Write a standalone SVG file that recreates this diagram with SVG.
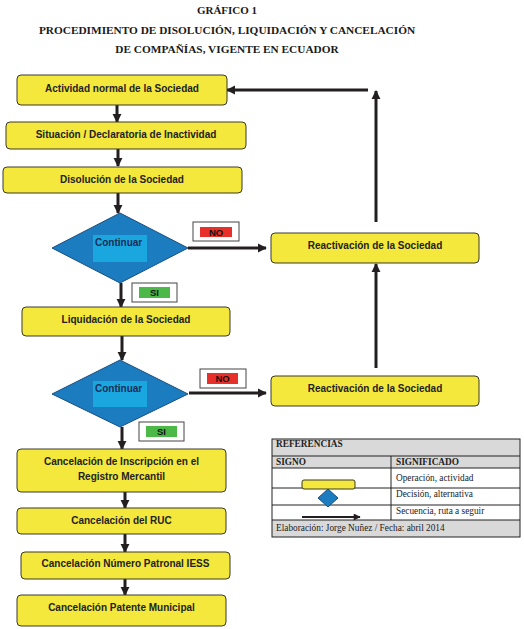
<svg xmlns="http://www.w3.org/2000/svg" width="524" height="629" viewBox="0 0 524 629">
<defs>
<style>
.title{font-family:"Liberation Serif","Times New Roman",serif;font-weight:bold;fill:#1a1a1a;text-anchor:middle}
.box{fill:#f4e83c;stroke:#3a3a2a;stroke-width:1}
.bt{font-family:"Liberation Sans",Arial,sans-serif;font-weight:bold;font-size:10px;fill:#222;text-anchor:middle}
.dia{fill:#1b7cc0;stroke:#1a4f80;stroke-width:1}
.inner{fill:#1aa7e0}
.ct{font-family:"Liberation Sans",Arial,sans-serif;font-weight:bold;font-size:10px;fill:#1c2b58}
.lbl{fill:#fff;stroke:#444;stroke-width:1}
.lt{font-family:"Liberation Sans",Arial,sans-serif;font-weight:bold;font-size:9.5px;fill:#111;text-anchor:middle}
.con{stroke:#231f20;stroke-width:3;fill:none}
.lg{font-family:"Liberation Serif","Times New Roman",serif;font-size:9.3px;fill:#222}
.lgb{font-family:"Liberation Serif","Times New Roman",serif;font-size:9.3px;font-weight:bold;fill:#222}
.tl{stroke:#222;stroke-width:1;fill:none}
</style>
<marker id="ah" viewBox="0 0 10 10" refX="9" refY="5" markerWidth="9" markerHeight="10" markerUnits="userSpaceOnUse" orient="auto">
<path d="M0,0 L10,5 L0,10 z" fill="#231f20"/>
</marker>
<marker id="ahs" viewBox="0 0 10 10" refX="9" refY="5" markerWidth="8" markerHeight="7" markerUnits="userSpaceOnUse" orient="auto">
<path d="M0,0 L10,5 L0,10 z" fill="#231f20"/>
</marker>
</defs>
<rect width="524" height="629" fill="#fff"/>

<g id="title">
<text class="title" x="227" y="14" font-size="11">GRÁFICO 1</text>
<text class="title" x="227" y="34" font-size="11.3">PROCEDIMIENTO DE DISOLUCIÓN, LIQUIDACIÓN Y CANCELACIÓN</text>
<text class="title" x="227" y="53" font-size="11.3">DE COMPAÑÍAS, VIGENTE EN ECUADOR</text>
</g>

<g id="connectors">
<line class="con" x1="117" y1="105" x2="117" y2="122" marker-end="url(#ah)"/>
<line class="con" x1="118" y1="149" x2="118" y2="166" marker-end="url(#ah)"/>
<line class="con" x1="118" y1="193" x2="118" y2="213" marker-end="url(#ah)"/>
<line class="con" x1="121" y1="283" x2="121" y2="307" marker-end="url(#ah)"/>
<line class="con" x1="122" y1="336" x2="122" y2="360" marker-end="url(#ah)"/>
<line class="con" x1="122" y1="427" x2="122" y2="449" marker-end="url(#ah)"/>
<line class="con" x1="125" y1="492" x2="125" y2="508" marker-end="url(#ah)"/>
<line class="con" x1="125" y1="534" x2="125" y2="552" marker-end="url(#ah)"/>
<line class="con" x1="125" y1="579" x2="125" y2="595" marker-end="url(#ah)"/>
<line class="con" x1="188" y1="248" x2="266" y2="248" marker-end="url(#ah)"/>
<line class="con" x1="189" y1="393" x2="266" y2="393" marker-end="url(#ah)"/>
<line class="con" x1="376" y1="368" x2="376" y2="264" marker-end="url(#ah)"/>
<line class="con" x1="376" y1="222" x2="376" y2="91" marker-end="url(#ah)"/>
<line class="con" x1="368" y1="90" x2="227" y2="90" marker-end="url(#ah)"/>
</g>

<g id="n1"><rect class="box" x="17" y="75" width="210" height="30" rx="4"/><text class="bt" x="122" y="91.5">Actividad normal de la Sociedad</text></g>
<g id="n2"><rect class="box" x="6" y="122" width="240" height="27" rx="4"/><text class="bt" x="126" y="138">Situación / Declaratoria de Inactividad</text></g>
<g id="n3"><rect class="box" x="3" y="167" width="239" height="26" rx="4"/><text class="bt" x="122" y="183">Disolución de la Sociedad</text></g>

<g id="d1">
<polygon class="dia" points="120,213 188,248 120,283 52,248"/>
<rect class="inner" x="93" y="235" width="54" height="27"/>
<text class="ct" x="95" y="246">Continuar</text>
</g>
<g id="no1"><rect class="lbl" x="193" y="222" width="46" height="19"/><rect x="200" y="227" width="32" height="10" fill="#e8302a"/><text class="lt" x="216" y="235.5">NO</text></g>
<g id="si1"><rect class="lbl" x="132" y="283" width="45" height="19"/><rect x="139" y="287" width="31" height="11" fill="#4cb848"/><text class="lt" x="154.5" y="296">SI</text></g>

<g id="r1"><rect class="box" x="271" y="233" width="208" height="30" rx="4"/><text class="bt" x="375" y="249">Reactivación de la Sociedad</text></g>

<g id="n4"><rect class="box" x="22" y="307" width="208" height="29" rx="4"/><text class="bt" x="126" y="323">Liquidación de la Sociedad</text></g>

<g id="d2">
<polygon class="dia" points="120,360 188,394 120,427 52,394"/>
<rect class="inner" x="93" y="381" width="54" height="26"/>
<text class="ct" x="95" y="392">Continuar</text>
</g>
<g id="no2"><rect class="lbl" x="200" y="369" width="46" height="19"/><rect x="207" y="373" width="31" height="11" fill="#e8302a"/><text class="lt" x="222.5" y="382">NO</text></g>
<g id="si2"><rect class="lbl" x="139" y="422" width="45" height="19"/><rect x="146" y="426" width="31" height="11" fill="#4cb848"/><text class="lt" x="161.5" y="435">SI</text></g>

<g id="r2"><rect class="box" x="271" y="376" width="208" height="30" rx="4"/><text class="bt" x="375" y="391.5">Reactivación de la Sociedad</text></g>

<g id="n5"><rect class="box" x="17" y="449" width="209" height="43" rx="4"/><text class="bt" x="121.5" y="465">Cancelación de Inscripción en el</text><text class="bt" x="121.5" y="479.5">Registro Mercantil</text></g>
<g id="n6"><rect class="box" x="17" y="508" width="209" height="26" rx="4"/><text class="bt" x="121.5" y="524">Cancelación del RUC</text></g>
<g id="n7"><rect class="box" x="21" y="552" width="209" height="27" rx="4"/><text class="bt" x="125.5" y="567">Cancelación Número Patronal IESS</text></g>
<g id="n8"><rect class="box" x="17" y="595" width="209" height="31" rx="4"/><text class="bt" x="121.5" y="611">Cancelación Patente Municipal</text></g>

<g id="legend">
<rect x="272" y="439" width="248" height="29" fill="#d9d9d9"/>
<rect x="272" y="520" width="248" height="17" fill="#d9d9d9"/>
<rect class="tl" x="272" y="439" width="248" height="98" stroke-width="1.5"/>
<line class="tl" x1="272" y1="456" x2="520" y2="456"/>
<line class="tl" x1="272" y1="468" x2="520" y2="468"/>
<line class="tl" x1="272" y1="488" x2="520" y2="488"/>
<line class="tl" x1="272" y1="505" x2="520" y2="505"/>
<line class="tl" x1="272" y1="520" x2="520" y2="520"/>
<line class="tl" x1="391" y1="456" x2="391" y2="520"/>
<text class="lgb" x="276" y="447">REFERENCIAS</text>
<text class="lgb" x="276" y="465">SIGNO</text>
<text class="lgb" x="396" y="465">SIGNIFICADO</text>
<text class="lg" x="396" y="481">Operación, actividad</text>
<text class="lg" x="396" y="497">Decisión, alternativa</text>
<text class="lg" x="396" y="514">Secuencia, ruta a seguir</text>
<text class="lg" x="276" y="531">Elaboración: Jorge Nuñez / Fecha: abril 2014</text>
<rect class="box" x="302" y="480" width="53" height="9" rx="2"/>
<polygon class="dia" points="328,489 338,498 328,507 318,498"/>
<line x1="302" y1="517" x2="360" y2="517" stroke="#231f20" stroke-width="2" marker-end="url(#ahs)"/>
</g>
</svg>
